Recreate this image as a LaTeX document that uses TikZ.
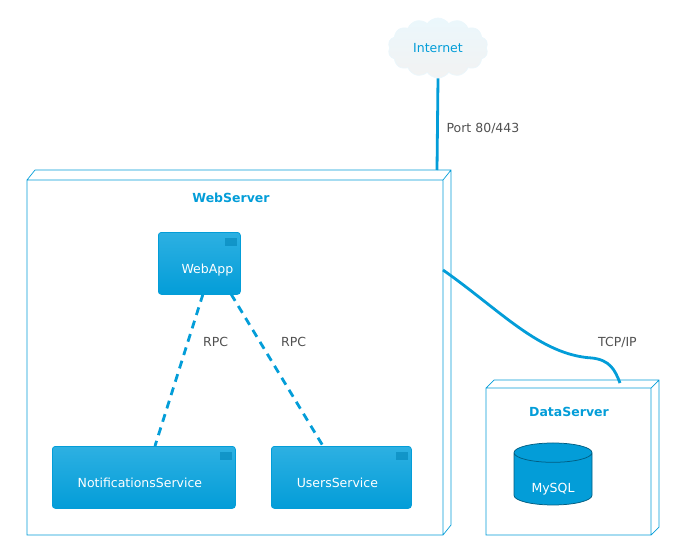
\documentclass[tikz,border=0pt]{standalone}
\usepackage{fontspec}
\setmainfont{DejaVu Sans}
\usetikzlibrary{shapes.geometric,shapes.symbols}
\definecolor{umlblue}{RGB}{3,157,216}
\definecolor{umllight}{RGB}{45,176,226}
\definecolor{umltext}{RGB}{80,80,80}
\tikzset{every picture/.style={line width=0.75pt}}
\tikzset{
  txt/.style={font=\fontsize{12.5}{15}\selectfont},
  bold/.style={font=\fontsize{12.5}{15}\selectfont\bfseries, text=umlblue},
  comp/.style={rectangle, rounded corners=3pt, draw=umlblue, top color=umllight, bottom color=umlblue, text=white, txt, anchor=north west, inner sep=0pt},
  lbl/.style={text=umltext, txt, anchor=west, inner sep=0.75pt},
  link/.style={draw=umlblue, line width=2.8pt},
  frontface/.style={draw=umlblue, line width=0.7pt}
}
\newcommand\lowtext[2]{\raisebox{#1}[0pt][0pt]{#2}}
\begin{document}
\begin{tikzpicture}[x=1pt,y=1pt,yscale=-1,xscale=1]
\useasboundingbox (0,0) rectangle (683,555);

% Cloud
\node [cloud, cloud puffs=14, cloud puff arc=110, aspect=1.8, draw=white!92!umlblue, top color=white!92!umlblue, bottom color=white!90!gray, text=umlblue, txt, minimum width=100pt, minimum height=60pt, inner sep=0pt] (internet) at (438,48) {Internet};

% Nodes (3D boxes)
\draw [frontface] (27,180) rectangle (443,535) (27,180) -- (35,170) -- (451,170) -- (451,525) -- (443,535) (443,180) -- (451,170) ;
\node [bold] (webserver) at (231,198) {WebServer};
\coordinate (wstop) at (437,170);
\coordinate (wsright) at (443,270);

\draw [frontface] (486,388) rectangle (651,535) (486,388) -- (494,380) -- (659,380) -- (659,527) -- (651,535) (651,388) -- (659,380) ;
\node [bold] (dataserver) at (569,412) {DataServer};
\coordinate (dstop) at (620,383);

% Components
\node [comp, minimum width=82pt, minimum height=62pt] (webapp) at (158,232) {\lowtext{-10pt}{\hspace*{16pt}WebApp}};
\node [comp, minimum width=183pt, minimum height=62pt] (notif) at (52,446) {\lowtext{-10pt}{NotificationsService\hspace*{8pt}}};
\node [comp, minimum width=140pt, minimum height=62pt] (users) at (271,446) {\lowtext{-10pt}{UsersService\hspace*{8pt}}};
\foreach \c in {webapp,notif,users}
  \draw [draw=none, fill=umlblue!85!black, fill opacity=0.6] ([xshift=-16pt,yshift=6pt]\c.north east) rectangle ([xshift=-4pt,yshift=14pt]\c.north east);

% Database
\node [cylinder, shape border rotate=90, aspect=0.45, draw=umlblue!60!black, fill=umlblue, text=white, txt, minimum width=78pt, minimum height=62pt, inner sep=0pt] (mysql) at (553,479) {\lowtext{-13pt}{MySQL}};

% Links
\coordinate (webappl) at (203,294);
\coordinate (webappr) at (231,294);
\coordinate (notiftop) at (155,446);
\coordinate (userstop) at (323,446);
\draw [link] (internet.south) -- (wstop) node [pos=0.55, lbl, right=7pt] {Port 80/443};
\draw [link] (wsright) .. controls (500,310) and (540,355) .. (592,358) .. controls (610,360) and (615,370) .. (dstop);
\node [lbl] (tcp) at (597,342) {TCP/IP};
\draw [link, dash pattern=on 8pt off 6pt] (webappl) -- (notiftop);
\draw [link, dash pattern=on 8pt off 6pt] (webappr) -- (userstop);
\node [lbl] (rpcl) at (202,342) {RPC};
\node [lbl] (rpcr) at (280,342) {RPC};
\end{tikzpicture}
\end{document}
